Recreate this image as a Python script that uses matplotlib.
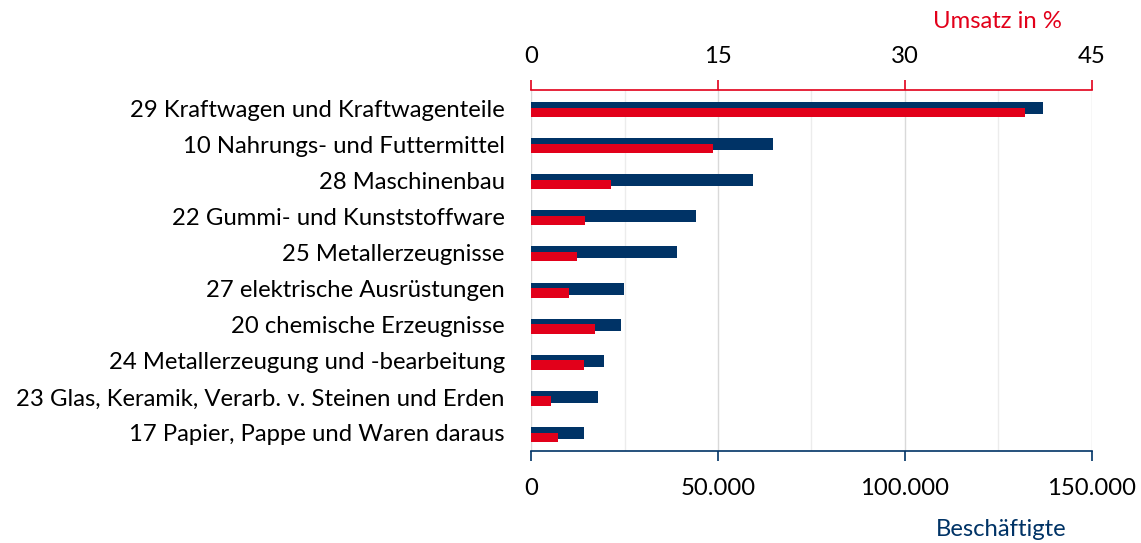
import numpy as np
from matplotlib import pyplot as plt
from matplotlib.ticker import FuncFormatter, MultipleLocator

branchen = ['29 Kraftwagen und Kraftwagenteile',
            '10 Nahrungs- und Futtermittel',
            '28 Maschinenbau',
            '22 Gummi- und Kunststoffware',
            '25 Metallerzeugnisse',
            '27 elektrische Ausrüstungen',
            '20 chemische Erzeugnisse',
            '24 Metallerzeugung und -bearbeitung',
            '23 Glas, Keramik, Verarb. v. Steinen und Erden',
            '17 Papier, Pappe und Waren daraus']
beschaeftigte = [136800, 64600, 59400, 44100, 39000, 24800, 24000, 19500, 17900, 14200]
umsatz = [39.6, 14.6, 6.45, 4.36, 3.67, 3.06, 5.12, 4.27, 1.6, 2.2]

navy = '#003366'
rot = '#e2001a'
fs = 17.2

plt.rcParams['font.family'] = ['Lato', 'DejaVu Sans']

fig = plt.figure(figsize=(11.41, 5.43), dpi=100)
ax = fig.add_axes([0.4654, 0.1694, 0.4916, 0.6649])

y = np.arange(len(branchen))
ax.barh(y, beschaeftigte, height=0.33, color=navy, zorder=2)
ax.set_xlim(0, 150000)
ax.set_ylim(len(branchen) - 0.5, -0.5)
ax.set_yticks(y)
ax.set_yticklabels(branchen, fontsize=fs)
ax.tick_params(axis='y', length=0, pad=19)
ax.xaxis.set_major_locator(MultipleLocator(50000))
ax.xaxis.set_minor_locator(MultipleLocator(25000))
ax.xaxis.set_major_formatter(FuncFormatter(lambda v, p: f'{int(v):,}'.replace(',', '.')))
ax.tick_params(axis='x', which='major', direction='out', length=7, width=1.2,
               color=navy, labelsize=fs, pad=12.5)
ax.tick_params(axis='x', which='minor', length=0)
ax.grid(axis='x', which='major', color='#d9d9d9', lw=1, zorder=0)
ax.grid(axis='x', which='minor', color='#ececec', lw=1, zorder=0)
for s in ['left', 'right', 'top']:
    ax.spines[s].set_visible(False)
ax.spines['bottom'].set_color(navy)
ax.spines['bottom'].set_linewidth(1.2)

ax2 = ax.twiny()
ax2.barh(y + 0.12, umsatz, height=0.26, color=rot, zorder=3)
ax2.set_xlim(0, 45)
ax2.set_ylim(len(branchen) - 0.5, -0.5)
ax2.set_xticks([0, 15, 30, 45])
ax2.tick_params(axis='x', direction='out', length=7, width=1.2, color=rot,
                labelsize=fs, pad=9.5)
for s in ['left', 'right', 'bottom']:
    ax2.spines[s].set_visible(False)
ax2.spines['top'].set_color(rot)
ax2.spines['top'].set_linewidth(1.2)

fig.text(997 / 1141, 1 - 22 / 543, 'Umsatz in %', color=rot, fontsize=fs,
         ha='center', va='center')
fig.text(1001 / 1141, 1 - 530 / 543, 'Beschäftigte', color=navy, fontsize=fs,
         ha='center', va='center')

fig.savefig('out.png', dpi=100)
